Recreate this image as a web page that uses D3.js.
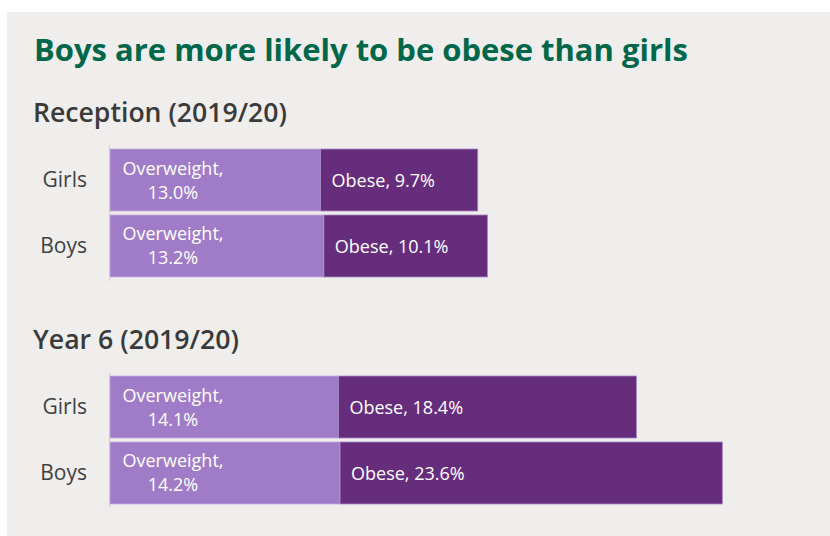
<!DOCTYPE html>
<html>
<head>
<meta charset="utf-8">
<script src="https://cdn.jsdelivr.net/npm/d3@7"></script>
<style>
  body { margin: 0; background: #fff; }
  svg { display: block; }
</style>
</head>
<body>
<script>
// Data
// ==============================
const title = 'Boys are more likely to be obese than girls'
const groups = ['Reception (2019/20)', 'Year 6 (2019/20)']
const categories = ['Girls', 'Boys']
const overweight = [[13.0, 13.2], [14.1, 14.2]]
const obese = [[9.7, 10.1], [18.4, 23.6]]

const width = 830
const height = 536
const colours = { overweight: '#a07cc8', obese: '#672d7d' }

const svg = d3.select('body').append('svg')
  .attr('width', width)
  .attr('height', height)

// shrink or grow a text's font size so it spans the wanted width
function fitWidth (sel, target) {
  const size = parseFloat(sel.style('font-size'))
  const w = sel.node().getComputedTextLength()
  sel.style('font-size', (size * target / w).toFixed(2) + 'px')
}

// panel background
svg.append('rect')
  .attr('x', 7).attr('y', 12)
  .attr('width', width - 7).attr('height', height - 12)
  .attr('fill', '#efeeec')

svg.append('text')
  .attr('x', 34).attr('y', 61)
  .attr('fill', '#00674a')
  .style('font-family', '"Open Sans", sans-serif')
  .style('font-weight', 700)
  .style('font-size', '27px')
  .text(title)
  .call(fitWidth, 654)

const x = d3.scaleLinear().domain([0, 40]).range([110, 758])

// subtitle baseline and bar range of each block
const blocks = [
  { head: 122, top: 149, bottom: 277, headWidth: 254 },
  { head: 349, top: 376, bottom: 504, headWidth: 206 }
]

groups.forEach((name, gi) => {
  const b = blocks[gi]
  const g = svg.append('g')

  g.append('text')
    .attr('x', 33).attr('y', b.head)
    .attr('fill', '#3a3a3a')
    .style('font-family', '"Open Sans", sans-serif')
    .style('font-weight', 600)
    .style('font-size', '25px')
    .text(name)
    .call(fitWidth, b.headWidth)

  const y = d3.scaleBand()
    .domain(categories)
    .range([b.top, b.bottom])
    .paddingInner(0.06)

  const rows = categories.map((c, i) => ({
    cat: c,
    ow: overweight[gi][i],
    ob: obese[gi][i]
  }))

  // y axis line
  g.append('line')
    .attr('x1', x(0) - 0.5).attr('x2', x(0) - 0.5)
    .attr('y1', b.top - 4).attr('y2', b.bottom + 4)
    .attr('stroke', '#d2d0ce')

  g.selectAll('.cat')
    .data(rows)
    .join('text')
    .attr('x', 87)
    .attr('y', d => y(d.cat) + y.bandwidth() / 2 + 7)
    .attr('text-anchor', 'end')
    .attr('fill', '#404040')
    .style('font-family', '"Open Sans", sans-serif')
    .style('font-size', '21px')
    .text(d => d.cat)

  const bar = g.selectAll('.row')
    .data(rows)
    .join('g')

  bar.append('rect')
    .attr('x', x(0))
    .attr('y', d => y(d.cat))
    .attr('width', d => x(d.ow) - x(0))
    .attr('height', y.bandwidth())
    .attr('fill', colours.overweight)
    .attr('stroke', '#c4b0dc')
    .attr('stroke-width', 0.8)

  bar.append('rect')
    .attr('x', d => x(d.ow))
    .attr('y', d => y(d.cat))
    .attr('width', d => x(d.ow + d.ob) - x(d.ow))
    .attr('height', y.bandwidth())
    .attr('fill', colours.obese)
    .attr('stroke', '#a98cc8')
    .attr('stroke-width', 0.8)

  const owText = bar.append('text')
    .attr('text-anchor', 'middle')
    .attr('fill', '#fff')
    .style('font-family', '"Open Sans", sans-serif')
    .style('font-size', '18px')
  owText.append('tspan')
    .attr('x', x(0) + 63)
    .attr('y', d => y(d.cat) + y.bandwidth() / 2 - 5.5)
    .text('Overweight,')
  owText.append('tspan')
    .attr('x', x(0) + 63)
    .attr('y', d => y(d.cat) + y.bandwidth() / 2 + 18.5)
    .text(d => d3.format('.1f')(d.ow) + '%')

  bar.append('text')
    .attr('x', d => x(d.ow) + 11)
    .attr('y', d => y(d.cat) + y.bandwidth() / 2 + 7)
    .attr('fill', '#fff')
    .style('font-family', '"Open Sans", sans-serif')
    .style('font-size', '18px')
    .text(d => 'Obese, ' + d3.format('.1f')(d.ob) + '%')
})
</script>
</body>
</html>
